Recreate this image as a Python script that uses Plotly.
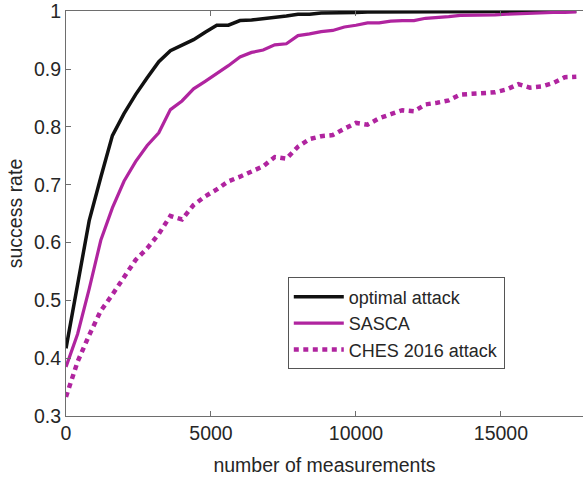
import plotly.graph_objects as go

# number of measurements (step of 400)
measurements = list(range(0, 17601, 400))

optimal_attack = [
    0.417, 0.530, 0.638, 0.713, 0.785, 0.823, 0.856, 0.885, 0.913, 0.932,
    0.941, 0.951, 0.964, 0.976, 0.976, 0.984, 0.985, 0.987, 0.990, 0.992,
    0.995, 0.995, 0.997, 0.997, 0.998, 0.998, 0.999, 0.999, 0.999, 1.000,
    1.000, 1.000, 1.000, 1.000, 1.000, 1.000, 1.000, 1.000, 1.000, 1.000,
    1.000, 1.000, 1.000, 1.000, 1.000,
]

sasca = [
    0.385, 0.442, 0.520, 0.604, 0.660, 0.706, 0.740, 0.768, 0.790, 0.830,
    0.845, 0.866, 0.879, 0.892, 0.906, 0.921, 0.929, 0.933, 0.942, 0.944,
    0.958, 0.961, 0.965, 0.967, 0.973, 0.976, 0.980, 0.980, 0.983, 0.984,
    0.984, 0.988, 0.989, 0.991, 0.993, 0.993, 0.993, 0.994, 0.995, 0.996,
    0.997, 0.997, 0.998, 0.998, 0.999,
]

ches2016 = [
    0.333, 0.394, 0.440, 0.482, 0.510, 0.540, 0.570, 0.590, 0.615, 0.646,
    0.640, 0.665, 0.680, 0.692, 0.706, 0.714, 0.723, 0.732, 0.748, 0.745,
    0.766, 0.779, 0.784, 0.786, 0.797, 0.807, 0.804, 0.815, 0.822, 0.829,
    0.827, 0.839, 0.842, 0.846, 0.856, 0.857, 0.859, 0.860, 0.865, 0.874,
    0.868, 0.870, 0.876, 0.886, 0.887,
]

x_ticks = [0, 5000, 10000, 15000]
x_tick_labels = ["0", "5000", "10000", "15000"]
y_ticks = [0.3, 0.4, 0.5, 0.6, 0.7, 0.8, 0.9, 1.0]
y_tick_labels = ["0.3", "0.4", "0.5", "0.6", "0.7", "0.8", "0.9", "1"]

MAGENTA = "#B0249F"
TEXT = "#262626"
AXIS = "#6e6e6e"
FONT = "Liberation Sans, Arial, sans-serif"

fig = go.Figure()
fig.add_trace(go.Scatter(
    x=measurements, y=optimal_attack, mode="lines", name="optimal attack",
    line=dict(color="#111111", width=3.5),
))
fig.add_trace(go.Scatter(
    x=measurements, y=sasca, mode="lines", name="SASCA",
    line=dict(color=MAGENTA, width=3.2),
))
fig.add_trace(go.Scatter(
    x=measurements, y=ches2016, mode="lines", name="CHES 2016 attack",
    line=dict(color=MAGENTA, width=4.5, dash="5px,4.5px"),
))

fig.update_layout(
    width=583, height=479,
    margin=dict(l=66, r=0, t=11, b=63),
    paper_bgcolor="white", plot_bgcolor="white",
    font=dict(family=FONT, color=TEXT, size=19),
    showlegend=True,
    legend=dict(
        x=0.429, y=0.342, xanchor="left", yanchor="top",
        bgcolor="white", bordercolor="#555555", borderwidth=1,
        font=dict(size=18, color=TEXT),
        tracegroupgap=0, itemwidth=50,
    ),
)

fig.update_xaxes(
    range=[0, 17830], tickvals=x_ticks, ticktext=x_tick_labels,
    ticks="inside", ticklen=5, tickcolor=AXIS,
    showline=True, linecolor=AXIS, linewidth=1, mirror="ticks",
    showgrid=False, zeroline=False,
    tickfont=dict(size=19.5, color=TEXT),
    title=dict(text="number of measurements", font=dict(size=19.5, color=TEXT), standoff=14),
)
fig.update_yaxes(
    range=[0.3, 1.0006], tickvals=y_ticks, ticktext=y_tick_labels,
    ticks="inside", ticklen=5, tickcolor=AXIS,
    showline=True, linecolor=AXIS, linewidth=1,
    showgrid=False, zeroline=False,
    tickfont=dict(size=19.5, color=TEXT),
    title=dict(text="success rate", font=dict(size=19.5, color=TEXT), standoff=6),
)

fig.write_html("out.html")
